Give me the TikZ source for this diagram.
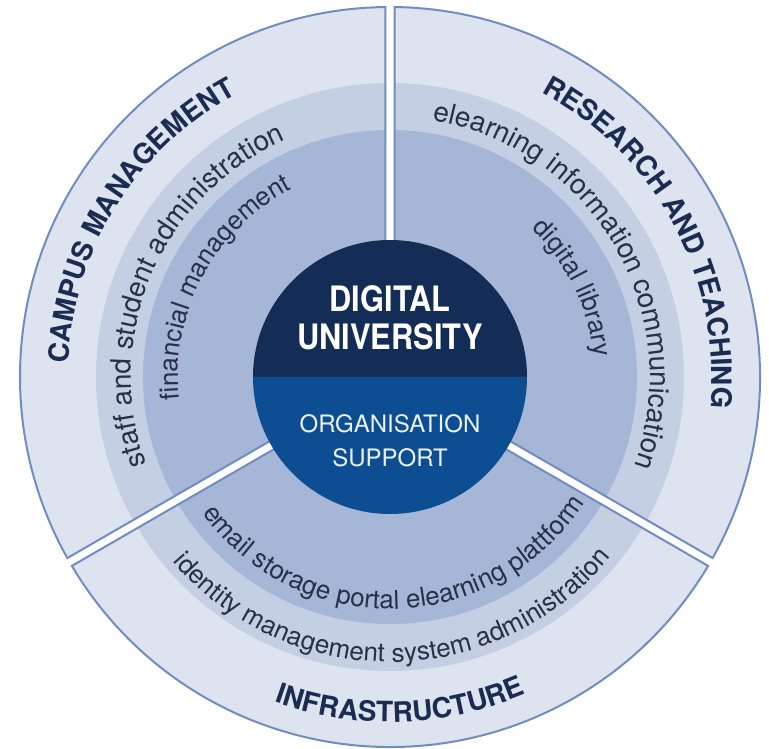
\documentclass[tikz,border=0pt]{standalone}
\usepackage{fontspec}
\setmainfont{TeX Gyre Heros}
\newfontfamily\corefont[FakeStretch=0.88]{TeX Gyre Heros}
\usetikzlibrary{decorations.text}
\definecolor{ringouter}{RGB}{221, 228, 240}
\definecolor{ringmid}{RGB}{196, 207, 227}
\definecolor{ringinner}{RGB}{165, 182, 214}
\definecolor{edgeblue}{RGB}{112, 141, 192}
\definecolor{corenavy}{RGB}{19, 45, 87}
\definecolor{coreblue}{RGB}{13, 78, 147}
\definecolor{labelnavy}{RGB}{27, 44, 82}
\definecolor{labelgray}{RGB}{40, 48, 70}
\tikzset{
    sector edge/.style={
        draw=edgeblue,
        line width=2pt,
        line join=miter
    },
    sector label/.style={
        decorate,
        decoration={text along path, text align=center, text color=labelnavy,
            text={|\fontsize{28}{30}\selectfont\bfseries|#1}}
    },
    ring label/.style 2 args={
        decorate,
        decoration={text along path, text align=center, text color=labelgray,
            text={|\fontsize{#2}{#2}\selectfont|#1}}
    },
    core title/.style={
        anchor=base,
        text=white,
        font=\corefont\bfseries\fontsize{35}{38}\selectfont
    },
    core subtitle/.style={
        anchor=base,
        text=white!92!coreblue,
        font=\fontsize{24}{28}\selectfont
    }
}

\begin{document}
\begin{tikzpicture}

\useasboundingbox (-390pt,-372pt) rectangle (379pt,377pt);

% === SECTORS ===
\foreach \a in {90,210,330} {
    \begin{scope}
        \clip ({\a+60}:5.2pt) -- ({\a+0.7}:370pt)
            arc[start angle={\a+0.7}, end angle={\a+119.3}, radius=370pt] -- cycle;
        \fill[ringouter] (0,0) circle[radius=370pt];
        \fill[ringmid] (0,0) circle[radius=294pt];
        \fill[ringinner] (0,0) circle[radius=247pt];
    \end{scope}
    \draw[sector edge] ({\a+60}:5.2pt) -- ({\a+0.7}:370pt)
        arc[start angle={\a+0.7}, end angle={\a+119.3}, radius=370pt] -- cycle;
}

% === CORE ===
\fill[corenavy] (180:137pt) arc[start angle=180, end angle=0, radius=137pt] -- cycle;
\fill[coreblue] (0:137pt) arc[start angle=0, end angle=-180, radius=137pt] -- cycle;

\node[core title] (digital) at (0,65pt) {DIGITAL};
\node[core title] (university) at (0,27pt) {UNIVERSITY};
\node[core subtitle] (organisation) at (0,-56pt) {ORGANISATION};
\node[core subtitle] (support) at (0,-90pt) {SUPPORT};

% === SECTOR LABELS ===
\path[sector label={CAMPUS MANAGEMENT}]
    (218:322pt) arc[start angle=218, end angle=78, radius=322pt];
\path[sector label={RESEARCH AND TEACHING}]
    (98.25:322pt) arc[start angle=98.25, end angle=-41.75, radius=322pt];
\path[sector label={INFRASTRUCTURE}]
    (201.8:345pt) arc[start angle=201.8, end angle=341.8, radius=345pt];

% === RING LABELS ===
% middle ring
\path[ring label={staff and student administration}{28}]
    (231.7:259pt) arc[start angle=231.7, end angle=81.7, radius=259pt];
\path[ring label={elearning information communication}{28}]
    (105.3:260pt) arc[start angle=105.3, end angle=-44.7, radius=260pt];
\path[ring label={identity management system administration}{26}]
    (195.65:285pt) arc[start angle=195.65, end angle=345.65, radius=285pt];

% inner ring
\path[ring label={financial management}{26}]
    (221.8:212pt) arc[start angle=221.8, end angle=81.8, radius=212pt];
\path[ring label={digital library}{26}]
    (96:205pt) arc[start angle=96, end angle=-44, radius=205pt];
\path[ring label={email storage portal elearning plattform}{26}]
    (196.65:232pt) arc[start angle=196.65, end angle=346.65, radius=232pt];

\end{tikzpicture}
\end{document}
